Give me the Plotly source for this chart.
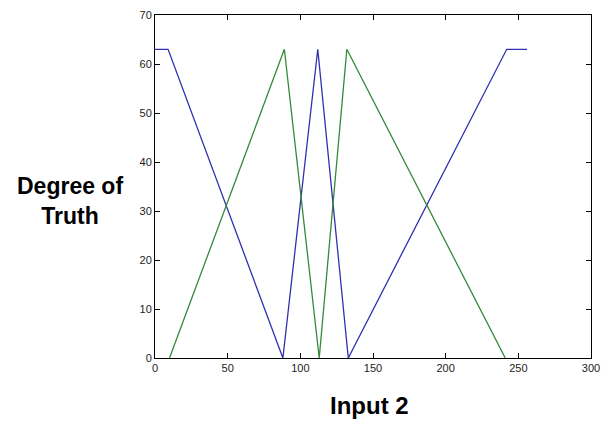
import plotly.graph_objects as go

# Membership function vertices (input range 0..255, degree 0..63)
blue_x = [0, 9, 88, 112, 133, 242, 256]
blue_y = [63, 63, 0, 63, 0, 63, 63]

green_x = [10, 89, 113, 132, 241]
green_y = [0, 63, 0, 63, 0]

x_ticks = [0, 50, 100, 150, 200, 250, 300]
y_ticks = [0, 10, 20, 30, 40, 50, 60, 70]

W, H = 603, 432
L, R, T, B = 155, 12, 15, 74

fig = go.Figure()
fig.add_trace(go.Scatter(x=blue_x, y=blue_y, mode="lines",
                         line=dict(color="#3030b0", width=1.3), showlegend=False))
fig.add_trace(go.Scatter(x=green_x, y=green_y, mode="lines",
                         line=dict(color="#338a3a", width=1.3), showlegend=False))

axis_common = dict(showgrid=False, zeroline=False, showline=True, linecolor="black",
                   linewidth=1, mirror="ticks", ticks="inside", ticklen=5,
                   tickcolor="black", automargin=False,
                   tickfont=dict(family="Liberation Sans, Arial", size=11, color="#222"))

fig.update_xaxes(range=[0, 300], tickvals=x_ticks, **axis_common)
fig.update_yaxes(range=[0, 70], tickvals=y_ticks, **axis_common)

def px_x(p):
    return (p - L) / (W - L - R)

def px_y(p):
    return (H - B - p) / (H - T - B)

fig.add_annotation(text="<b>Degree of<br>Truth</b>", x=px_x(70), y=px_y(201),
                   xref="paper", yref="paper", showarrow=False, align="center",
                   xanchor="center", yanchor="middle",
                   font=dict(family="Liberation Sans, Arial", size=23, color="black"))
fig.add_annotation(text="<b>Input 2</b>", x=px_x(369), y=px_y(405),
                   xref="paper", yref="paper", showarrow=False,
                   xanchor="center", yanchor="middle",
                   font=dict(family="Liberation Sans, Arial", size=24, color="black"))

fig.update_layout(width=W, height=H, margin=dict(l=L, r=R, t=T, b=B),
                  plot_bgcolor="white", paper_bgcolor="white")

fig.write_html("out.html")
